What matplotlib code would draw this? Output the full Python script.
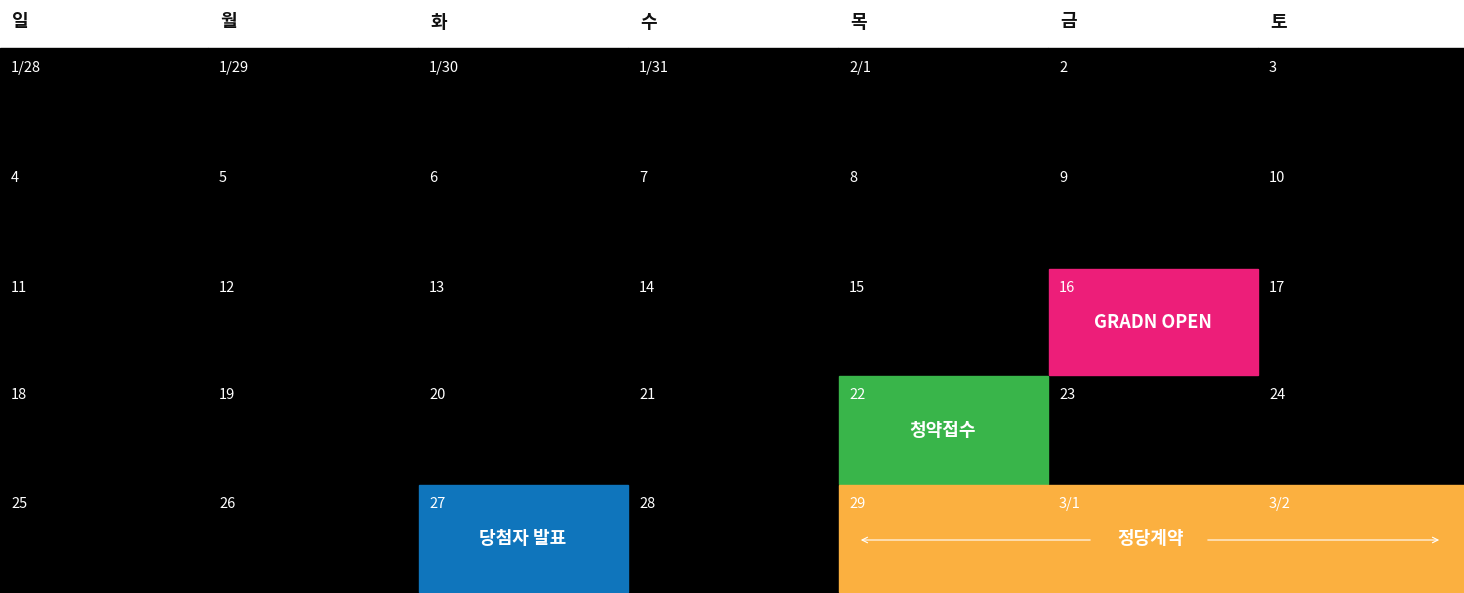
import matplotlib
matplotlib.use("Agg")
import matplotlib.pyplot as plt
from matplotlib.patches import Rectangle

plt.rcParams['font.family'] = ['Noto Sans CJK KR', 'DejaVu Sans']

weekdays = ['일', '월', '화', '수', '목', '금', '토']
dates = [['1/28', '1/29', '1/30', '1/31', '2/1', '2', '3'],
         ['4', '5', '6', '7', '8', '9', '10'],
         ['11', '12', '13', '14', '15', '16', '17'],
         ['18', '19', '20', '21', '22', '23', '24'],
         ['25', '26', '27', '28', '29', '3/1', '3/2']]
# events: (row, start col, span, label, color)
event_rows = [2, 3, 4, 4]
event_cols = [5, 4, 2, 4]
event_spans = [1, 1, 1, 3]
event_labels = ['GRADN OPEN', '청약접수', '당첨자 발표', '정당계약']
event_colors = ['#ED1E79', '#39B54A', '#0F75BC', '#FBB040']

W, H = 1464, 593
col_edges = [0, 208, 418, 628, 838, 1048, 1258, 1464]
row_edges = [48, 158, 268, 375, 484, 592]

fig = plt.figure(figsize=(W/100, H/100), dpi=100)
ax = fig.add_axes([0, 0, 1, 1])
ax.set_xlim(0, W); ax.set_ylim(H, 0); ax.axis('off')

ax.add_patch(Rectangle((0, 48), W, H-48, color='black'))
for i, d in enumerate(weekdays):
    ax.text(col_edges[i]+12, 22, d, fontsize=13, fontweight='bold', va='center', ha='left', color='#111')

for r, c, s, lab, colr in zip(event_rows, event_cols, event_spans, event_labels, event_colors):
    x0, x1 = col_edges[c], col_edges[c+s]
    y0, y1 = row_edges[r], row_edges[r+1]
    ax.add_patch(Rectangle((x0+1, y0+1), x1-x0-1, y1-y0-1, color=colr, zorder=1))

# grid lines
for x in col_edges[1:-1]:
    ax.plot([x, x], [48, 592], color='#555', lw=0.8, zorder=0.5)
for y in row_edges[1:-1]:
    ax.plot([0, W], [y, y], color='#555', lw=0.8, zorder=0.5)

for r, row in enumerate(dates):
    for c, d in enumerate(row):
        ax.text(col_edges[c]+11, row_edges[r]+20, d, fontsize=10.5, color='white', va='center', ha='left', zorder=3)

for r, c, s, lab, colr in zip(event_rows, event_cols, event_spans, event_labels, event_colors):
    x0, x1 = col_edges[c], col_edges[c+s]
    y0 = row_edges[r]
    xm = (x0 + x1) / 2
    ax.text(xm, y0+55, lab, fontsize=13, color='white', fontweight='bold', ha='center', va='center', zorder=3)
    if s > 1:
        ax.annotate('', xy=(x0+20, y0+56), xytext=(xm-58, y0+56),
                    arrowprops=dict(arrowstyle='->', color='white', lw=0.8), zorder=3)
        ax.annotate('', xy=(x1-22, y0+56), xytext=(xm+54, y0+56),
                    arrowprops=dict(arrowstyle='->', color='white', lw=0.8), zorder=3)

fig.savefig('out.png', dpi=100, facecolor='white')
